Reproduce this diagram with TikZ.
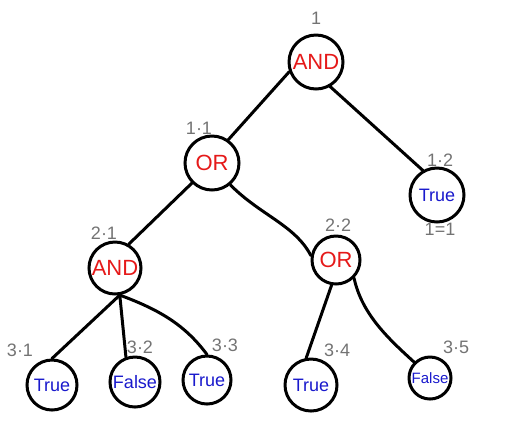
\documentclass[tikz,border=0pt]{standalone}
\usepackage{fontspec}
\setmainfont{Liberation Sans}
\usepackage{tikz}
\usetikzlibrary{shapes.geometric,positioning}
\definecolor{opred}{rgb}{0.9,0.1,0.1}
\definecolor{leafblue}{rgb}{0.1,0.1,0.8}
\definecolor{tagcol}{rgb}{0.45,0.45,0.45}
\tikzstyle{op} = [circle, draw=black, line width=1.5pt, minimum size=27pt, inner sep=0pt, text=opred, font=\fontsize{11}{11}\selectfont]
\tikzstyle{leaf} = [circle, draw=black, line width=1.5pt, minimum size=25pt, inner sep=0pt, text=leafblue, font=\fontsize{9}{9}\selectfont]
\tikzstyle{tag} = [text=tagcol, font=\fontsize{9}{9}\selectfont]
\tikzstyle{line} = [line width=1.5pt, line cap=round]

\begin{document}
\begin{tikzpicture}[x=0.5pt,y=-0.5pt]
\useasboundingbox (0,0) rectangle (512,441);
%%
\node (root) at (316,62) [op] {AND};
  \node (or11) at (212,163) [op] {OR};
  \node (true12) at (437,195) [leaf, minimum size=27pt] {True};
  \node (and21) at (115,268) [op, minimum size=26pt] {AND};
  \node (or22) at (336,260) [op, minimum size=24pt] {OR};
  \node (leaf31) at (52,385) [leaf] {True};
  \node (leaf32) at (135,382) [leaf] {False};
  \node (leaf33) at (207,380) [leaf, minimum size=24pt] {True};
  \node (leaf34) at (311,385) [leaf, minimum size=26pt] {True};
  \node (leaf35) at (430,378) [leaf, minimum size=21pt, font=\fontsize{7.5}{8}\selectfont] {False};
%% grey tags
  \node (tag1) at (316,18) [tag] {1};
  \node (tag11) at (199,128) [tag] {1·1};
  \node (tag12) at (440,160) [tag] {1·2};
  \node (tageq) at (440,229) [tag] {1=1};
  \node (tag21) at (104,233) [tag] {2·1};
  \node (tag22) at (338,225) [tag] {2·2};
  \node (tag31) at (20,350) [tag] {3·1};
  \node (tag32) at (140,347) [tag] {3·2};
  \node (tag33) at (225,345) [tag] {3·3};
  \node (tag34) at (337,350) [tag] {3·4};
  \node (tag35) at (456,347) [tag] {3·5};
%% edges
  \draw [line] (root.200) -- (or11.55);
  \draw [line] (root.-60) -- (true12.120);
  \draw [line] (or11.225) -- (and21.60);
  \draw [line] (or11.-50) .. controls (260,215) and (295,225) .. (or22.170);
  \draw [line] (and21.-80) -- (leaf31.north);
  \draw [line] (and21.-80) -- (leaf32.110);
  \draw [line] (and21.-80) .. controls (160,310) and (185,325) .. (leaf33.north);
  \draw [line] (or22.-100) -- (leaf34.100);
  \draw [line] (or22.-45) .. controls (362,315) and (390,340) .. (leaf35.135);
%
\end{tikzpicture}
\end{document}
